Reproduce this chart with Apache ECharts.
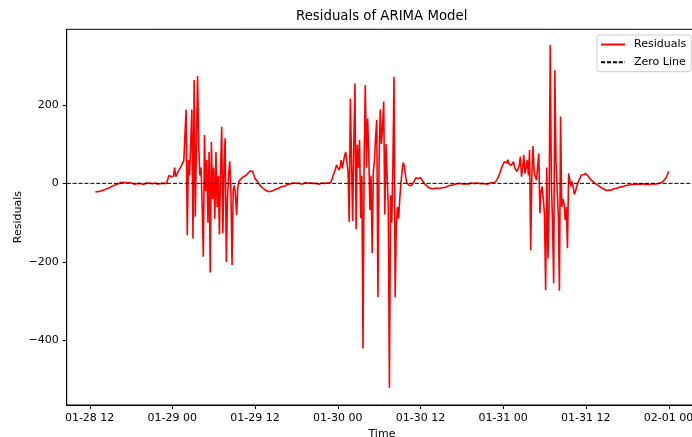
<!DOCTYPE html>
<html>
<head>
<meta charset="utf-8">
<script src="https://cdn.jsdelivr.net/npm/echarts@6/dist/echarts.min.js"></script>
<style>
  html, body { margin: 0; padding: 0; background: #fff; }
  #main { width: 692px; height: 437px; }
</style>
</head>
<body>
<div id="main"></div>
<script>
// residuals, 10 minute steps
// 01-28 12:50 .. 23:50
var r28pm = [-22,
  -24, -21, -23, -20, -21, -18,
  -19, -16, -17, -14, -15, -12,
  -10, -8, -9, -6, -5, -3,
  -3, -1, 0, 2, 1, 3,
  4, 2, 6, 1, 0, 2,
  -1, 0, 1, -2, 0, -1,
  1, 0, -2, -1, 0, -3,
  -1, 0, -2, 1, -1, 0,
  -2, -1, 0, 1, -1, -2,
  0, -1, 1, 0, -2, 0,
  1, 0, 5, 20, 22, 17];
// 01-29 00:00 .. 11:50
var r29am = [
  16, 18, 40, 17, 22, 30,
  34, 40, 44, 52, 58, 60,
  187, -132, 60, 20, 100, 188,
  -140, 263, -85, 100, 273, 93,
  20, 40, -60, -187, 123, -20,
  60, -100, 80, -227, 106, -40,
  40, -90, 80, -60, 20, -130,
  30, 144, -127, 40, 115, -200,
  -40, 20, 56, -20, -208, -20,
  -5, -30, -81, -10, 5, 10,
  12, 15, 17, 16, 20, 22,
  26, 28, 32, 27, 30, 25];
// 01-29 12:00 .. 23:50
var r29pm = [
  12, 8, 5, 0, -4, -8,
  -10, -13, -15, -17, -19, -20,
  -21, -22, -20, -21, -18, -17,
  -15, -16, -13, -12, -10, -9,
  -8, -6, -7, -5, -3, -4,
  -2, -3, 0, -1, 1, -2,
  0, -1, 1, 0, -2, 1,
  -1, 0, 2, -1, 0, -2,
  1, -1, 0, -2, 0, 1,
  -1, 0, -2, 0, 1, -1,
  0, -2, 1, -1, 0, 2,
  3, 10, 20, 25, 36, 47];
// 01-30 00:00 .. 11:50
var r30am = [
  47, 34, 40, 59, 38, 55,
  70, 80, 85, 30, -98, 216,
  60, -96, 100, 254, -117, 98,
  40, 110, -89, 20, -420, 60,
  250, 40, 165, 80, -68, 20,
  -177, 30, 60, 120, 161, -290,
  50, 188, 100, 140, 208, -79,
  100, 20, -60, -520, -30, -100,
  40, 271, -290, -107, -60, -90,
  -40, 0, 30, 53, 45, 20,
  2, -3, -5, -8, -6, -2,
  2, 8, 14, 17, 12, 16];
// 01-30 12:00 .. 23:50
var r30pm = [
  15, 10, 5, 2, -2, -5,
  -8, -10, -12, -13, -14, -12,
  -13, -15, -12, -14, -13, -11,
  -12, -10, -11, -9, -10, -8,
  -7, -6, -5, -4, -5, -3,
  -2, -3, -1, -2, 0, -2,
  -1, 0, -2, 1, -1, 0,
  -2, 0, 1, -1, 0, -2,
  0, -1, 1, 0, -1, -2,
  0, 1, -1, 0, -2, 1,
  0, -1, 2, 0, 1, 3,
  6, 10, 17, 25, 34, 42];
// 01-31 00:00 .. 11:50
var r31am = [
  48, 55, 59, 52, 60, 50,
  55, 45, 50, 55, 40, 45,
  30, 25, 45, 68, 17, 40,
  72, 25, 40, 60, 20, 85,
  -170, 20, 95, 30, 17, 8,
  40, 76, -76, -20, -8, -40,
  -80, -272, 40, -191, -60, 352,
  0, -100, -255, 288, 59, 55,
  -80, -273, 170, -60, -40, -50,
  -93, -60, -165, 25, 10, -8,
  5, -10, -28, -20, -8, 0,
  8, 14, 21, 18, 22, 25];
// 01-31 12:00 .. 23:50
var r31pm = [
  25, 20, 18, 13, 10, 8,
  5, 3, 0, -2, -4, -6,
  -8, -10, -12, -13, -15, -16,
  -18, -19, -17, -19, -18, -16,
  -14, -15, -13, -12, -11, -10,
  -9, -8, -9, -7, -6, -7,
  -5, -6, -4, -5, -3, -4,
  -3, -4, -2, -3, -2, -4,
  -2, -3, -1, -2, -3, -1,
  -2, -1, -3, -2, -1, -3,
  -2, 0, -1, -2, 0, 1,
  2, 5, 8, 10, 15, 22];
// 02-01 00:00
var r01 = [30];

// x in hours since 01-28 00:00
var tickHours = [12, 24, 36, 48, 60, 72, 84, 96];
var tickLabels = ['01-28 12', '01-29 00', '01-29 12', '01-30 00', '01-30 12', '01-31 00', '01-31 12', '02-01 00'];
var yTicks = [-400, -200, 0, 200];

var startHour = 12 + 50 / 60;
var stepHour = 1 / 6;
var xMin = 8.675, xMax = 100.158;
var yMin = -564, yMax = 392;

var residuals = [].concat(r28pm, r29am, r29pm, r30am, r30pm, r31am, r31pm, r01);
var points = residuals.map(function (v, i) { return [startHour + i * stepHour, v]; });

var font = 'DejaVu Sans';
var myChart = echarts.init(document.getElementById('main'));

var option = {
    animation: false,
    backgroundColor: '#fff',
    title: {
        text: 'Residuals of ARIMA Model',
        left: 296,
        top: 10,
        padding: 0,
        textStyle: { fontFamily: font, fontSize: 13.3, fontWeight: 'normal', color: '#000' }
    },
    legend: {
        data: ['Residuals', 'Zero Line'],
        orient: 'vertical',
        left: 597,
        top: 35,
        padding: [4, 5, 4, 3],
        itemWidth: 24,
        itemHeight: 11,
        itemGap: 6.7,
        backgroundColor: 'rgba(255,255,255,0.8)',
        borderColor: '#cccccc',
        borderWidth: 1,
        borderRadius: 3,
        itemStyle: { color: 'rgba(0,0,0,0)', borderColor: 'rgba(0,0,0,0)', borderWidth: 0 },
        textStyle: { fontFamily: font, fontSize: 11, color: '#000', padding: [0, 0, 0, 4] }
    },
    grid: {
        left: 66.7,
        right: -5.2,
        top: 29.3,
        bottom: 32,
        outerBoundsMode: 'none',
        containLabel: false,
        show: true,
        borderColor: '#000',
        borderWidth: 1
    },
    xAxis: {
        type: 'value',
        min: xMin,
        max: xMax,
        name: 'Time',
        nameLocation: 'middle',
        nameGap: 23,
        nameTextStyle: { fontFamily: font, fontSize: 11, color: '#000' },
        axisLine: { show: true, onZero: false, lineStyle: { color: '#000', width: 1 } },
        axisTick: { show: false },
        axisLabel: {
            customValues: tickHours,
            margin: 8,
            fontFamily: font,
            fontSize: 11,
            color: '#000',
            formatter: function (v) {
                var i = tickHours.indexOf(v);
                return i >= 0 ? tickLabels[i] : '';
            }
        },
        splitLine: { show: false }
    },
    yAxis: {
        type: 'value',
        min: yMin,
        max: yMax,
        name: 'Residuals',
        nameLocation: 'middle',
        nameGap: 43,
        nameMoveOverlap: false,
        nameTextStyle: { fontFamily: font, fontSize: 11, color: '#000' },
        axisLine: { show: true, onZero: false, lineStyle: { color: '#000', width: 1 } },
        axisTick: { show: true, length: 4, customValues: yTicks, lineStyle: { color: '#000' } },
        axisLabel: {
            customValues: yTicks,
            margin: 8,
            fontFamily: font,
            fontSize: 11,
            color: '#000',
            formatter: function (v) { return String(v).replace('-', '\u2212'); }
        },
        splitLine: { show: false }
    },
    series: [
        {
            name: 'Residuals',
            type: 'line',
            data: points,
            showSymbol: false,
            symbol: 'none',
            color: '#ff0000',
            lineStyle: { color: '#ff0000', width: 1.6 }
        },
        {
            name: 'Zero Line',
            type: 'line',
            data: [[xMin, 0], [xMax, 0]],
            showSymbol: false,
            symbol: 'none',
            color: '#000',
            lineStyle: { color: '#000', width: 1, type: [4.1, 1.8] },
            z: 3
        },
        {
            // x axis tick marks at the 12 hour labels
            name: 'xticks',
            type: 'custom',
            silent: true,
            clip: false,
            data: tickHours.map(function (h) { return [h]; }),
            renderItem: function (params, api) {
                var p = api.coord([api.value(0), yMin]);
                var x = Math.round(p[0]) + 0.5;
                return {
                    type: 'line',
                    shape: { x1: x, y1: p[1], x2: x, y2: p[1] + 4 },
                    style: { stroke: '#000', lineWidth: 1 }
                };
            }
        }
    ]
};

myChart.setOption(option);
</script>
</body>
</html>
